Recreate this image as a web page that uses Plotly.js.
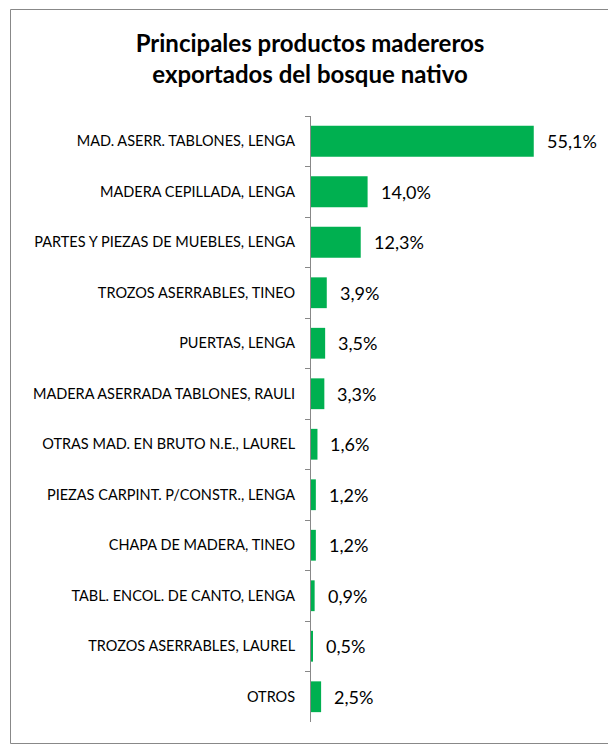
<!DOCTYPE html>
<html>
<head>
<meta charset="utf-8">
<script src="https://cdn.plot.ly/plotly-3.0.1.min.js"></script>
<style>html,body{margin:0;padding:0;background:#fff;}#chart{width:608px;height:745px;}</style>
</head>
<body>
<div id="chart"></div>
<script>
const categories = [
  "MAD. ASERR. TABLONES, LENGA",
  "MADERA CEPILLADA, LENGA",
  "PARTES Y PIEZAS DE MUEBLES, LENGA",
  "TROZOS ASERRABLES, TINEO",
  "PUERTAS, LENGA",
  "MADERA ASERRADA TABLONES, RAULI",
  "OTRAS MAD. EN BRUTO N.E., LAUREL",
  "PIEZAS CARPINT. P/CONSTR., LENGA",
  "CHAPA DE MADERA, TINEO",
  "TABL. ENCOL. DE CANTO, LENGA",
  "TROZOS ASERRABLES, LAUREL",
  "OTROS"
];
const shares = [55.1, 14.0, 12.3, 3.9, 3.5, 3.3, 1.6, 1.2, 1.2, 0.9, 0.5, 2.5];
const labels = shares.map(v => v.toFixed(1).replace('.', ',') + '%');

const W = 608, H = 745;
const mL = 311, mR = 14, mT = 116, mB = 23;
const pw = W - mL - mR, ph = H - mT - mB;
function px(x){ return (x - mL) / pw; }
function py(y){ return 1 - (y - mT) / ph; }

const trace = {
  type: 'bar',
  orientation: 'h',
  x: shares,
  y: categories,
  marker: {color: '#00B050'},
  width: 0.61,
  hoverinfo: 'none'
};

const annotations = categories.map((c, i) => ({
  x: shares[i], y: c, xref: 'x', yref: 'y',
  text: labels[i], showarrow: false,
  xanchor: 'left', yanchor: 'middle', xshift: 11,
  font: {family: 'Lato, sans-serif', size: 18, color: '#000'}
}));

const layout = {
  width: W, height: H,
  margin: {l: mL, r: mR, t: mT, b: mB, pad: 0},
  paper_bgcolor: '#fff', plot_bgcolor: '#fff',
  showlegend: false,
  title: {
    text: 'Principales productos madereros<br>exportados del bosque nativo',
    font: {family: 'Lato, sans-serif', size: 24, color: '#000', weight: 'bold'},
    x: 310 / W, xref: 'container', y: 1 - 52 / H, yref: 'container', yanchor: 'top', xanchor: 'center'
  },
  xaxis: {range: [0, 70], visible: false, showgrid: false, zeroline: false, fixedrange: true},
  yaxis: {
    type: 'category', autorange: 'reversed',
    showline: true, linecolor: '#888', linewidth: 1,
    ticks: 'outside', ticklen: 5, tickcolor: '#888', tickwidth: 1,
    tickson: 'boundaries', ticklabelstandoff: 12,
    showgrid: false, zeroline: false,
    tickfont: {family: 'Lato, sans-serif', size: 14.5, color: '#000'}
  },
  annotations: annotations,
  shapes: [{
    type: 'rect', xref: 'paper', yref: 'paper',
    x0: px(10.5), x1: px(620), y0: py(743.5), y1: py(9.5),
    line: {color: '#888', width: 1}, fillcolor: 'rgba(0,0,0,0)', layer: 'below'
  }]
};

Plotly.newPlot('chart', [trace], layout, {displayModeBar: false, staticPlot: true});
</script>
</body>
</html>
